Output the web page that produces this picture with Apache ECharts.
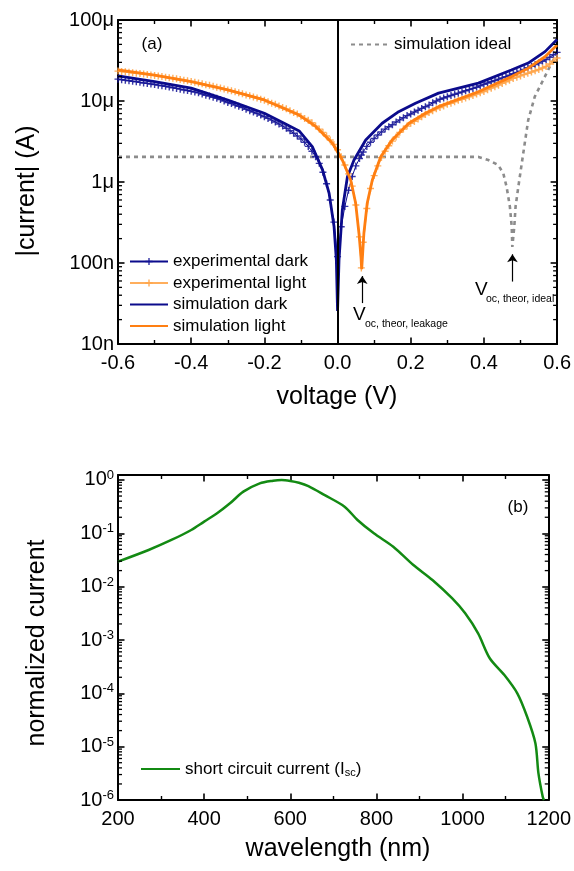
<!DOCTYPE html>
<html><head><meta charset="utf-8">
<script src="https://cdn.jsdelivr.net/npm/echarts@6/dist/echarts.min.js"></script>
<style>html,body{margin:0;padding:0;background:#fff}#c{width:574px;height:871px}</style>
</head><body><div id="c"></div>
<script>
const FONT = "'Liberation Sans', Arial, Helvetica, sans-serif";

// ---------- panel (a) data ----------
const expVoltage = [-0.60,-0.59,-0.58,-0.57,-0.56,-0.55,-0.54,-0.53,-0.52,-0.51,-0.50,-0.49,-0.48,-0.47,-0.46,-0.45,-0.44,-0.43,-0.42,-0.41,-0.40,-0.39,-0.38,-0.37,-0.36,-0.35,-0.34,-0.33,-0.32,-0.31,-0.30,-0.29,-0.28,-0.27,-0.26,-0.25,-0.24,-0.23,-0.22,-0.21,-0.20,-0.19,-0.18,-0.17,-0.16,-0.15,-0.14,-0.13,-0.12,-0.11,-0.10,-0.09,-0.08,-0.07,-0.06,-0.05,-0.04,-0.03,-0.02,-0.01,0.00,0.01,0.02,0.03,0.04,0.05,0.06,0.065,0.07,0.08,0.09,0.10,0.11,0.12,0.13,0.14,0.15,0.16,0.17,0.18,0.19,0.20,0.21,0.22,0.23,0.24,0.25,0.26,0.27,0.28,0.29,0.30,0.31,0.32,0.33,0.34,0.35,0.36,0.37,0.38,0.39,0.40,0.41,0.42,0.43,0.44,0.45,0.46,0.47,0.48,0.49,0.50,0.51,0.52,0.53,0.54,0.55,0.56,0.57,0.58,0.59,0.60];
const expDark = [1.86e-5,1.83e-5,1.81e-5,1.78e-5,1.75e-5,1.73e-5,1.70e-5,1.67e-5,1.65e-5,1.62e-5,1.60e-5,1.57e-5,1.54e-5,1.52e-5,1.49e-5,1.46e-5,1.43e-5,1.40e-5,1.37e-5,1.35e-5,1.32e-5,1.29e-5,1.26e-5,1.22e-5,1.18e-5,1.15e-5,1.11e-5,1.08e-5,1.04e-5,1.00e-5,9.6e-6,9.3e-6,8.9e-6,8.6e-6,8.3e-6,7.9e-6,7.6e-6,7.3e-6,7.0e-6,6.7e-6,6.4e-6,6.1e-6,5.8e-6,5.5e-6,5.2e-6,4.9e-6,4.6e-6,4.3e-6,4.0e-6,3.7e-6,3.4e-6,3.1e-6,2.75e-6,2.4e-6,2.05e-6,1.7e-6,1.32e-6,9.5e-7,6.0e-7,3.2e-7,1.2e-7,2.8e-7,5.0e-7,7.9e-7,1.17e-6,1.58e-6,1.95e-6,2.15e-6,2.35e-6,2.75e-6,3.1e-6,3.45e-6,3.8e-6,4.15e-6,4.5e-6,4.8e-6,5.1e-6,5.5e-6,5.85e-6,6.2e-6,6.6e-6,6.9e-6,7.3e-6,7.7e-6,8.1e-6,8.5e-6,8.9e-6,9.5e-6,1.0e-5,1.05e-5,1.09e-5,1.13e-5,1.17e-5,1.21e-5,1.25e-5,1.29e-5,1.34e-5,1.38e-5,1.43e-5,1.48e-5,1.54e-5,1.61e-5,1.67e-5,1.73e-5,1.79e-5,1.86e-5,1.93e-5,2.0e-5,2.08e-5,2.17e-5,2.25e-5,2.33e-5,2.45e-5,2.57e-5,2.69e-5,2.82e-5,2.95e-5,3.09e-5,3.24e-5,3.47e-5,3.72e-5,3.98e-5];
const expLight = [2.34e-5,2.31e-5,2.29e-5,2.26e-5,2.23e-5,2.2e-5,2.18e-5,2.15e-5,2.12e-5,2.1e-5,2.07e-5,2.04e-5,2.01e-5,1.97e-5,1.94e-5,1.91e-5,1.88e-5,1.84e-5,1.81e-5,1.78e-5,1.74e-5,1.7e-5,1.67e-5,1.63e-5,1.59e-5,1.56e-5,1.52e-5,1.48e-5,1.45e-5,1.41e-5,1.37e-5,1.34e-5,1.3e-5,1.26e-5,1.23e-5,1.19e-5,1.16e-5,1.12e-5,1.09e-5,1.05e-5,1.02e-5,9.8e-6,9.4e-6,9.1e-6,8.7e-6,8.3e-6,8.0e-6,7.6e-6,7.2e-6,6.9e-6,6.5e-6,6.1e-6,5.8e-6,5.4e-6,4.9e-6,4.5e-6,4.1e-6,3.7e-6,3.3e-6,2.9e-6,2.5e-6,2.05e-6,1.62e-6,1.26e-6,8.9e-7,5.2e-7,2.1e-7,8.7e-8,1.8e-7,4.7e-7,8.3e-7,1.2e-6,1.58e-6,2.0e-6,2.4e-6,2.8e-6,3.2e-6,3.6e-6,4.1e-6,4.5e-6,4.9e-6,5.3e-6,5.6e-6,6.0e-6,6.4e-6,6.8e-6,7.2e-6,7.6e-6,8.0e-6,8.3e-6,8.7e-6,9.1e-6,9.4e-6,9.8e-6,1.02e-5,1.05e-5,1.09e-5,1.13e-5,1.17e-5,1.22e-5,1.26e-5,1.31e-5,1.38e-5,1.44e-5,1.5e-5,1.57e-5,1.65e-5,1.73e-5,1.81e-5,1.9e-5,1.97e-5,2.04e-5,2.12e-5,2.2e-5,2.28e-5,2.36e-5,2.45e-5,2.55e-5,2.67e-5,2.86e-5,3.1e-5,3.4e-5];

const simDarkV = [-0.6,-0.5,-0.4,-0.3,-0.2,-0.146,-0.105,-0.069,-0.041,-0.023,-0.0095,-0.0033,0,0.004,0.013,0.027,0.045,0.077,0.122,0.167,0.213,0.276,0.385,0.475,0.521,0.567,0.6];
const simDark = [2.04e-5,1.73e-5,1.44e-5,1.03e-5,7.05e-6,5.31e-6,4.27e-6,2.73e-6,1.41e-6,7.24e-7,2.8e-7,1.09e-7,2.55e-8,1.09e-7,4.51e-7,1.16e-6,1.87e-6,3.3e-6,5.31e-6,7.38e-6,9.38e-6,1.25e-5,1.66e-5,2.41e-5,2.94e-5,4.07e-5,5.74e-5];

const simLightV = [-0.6,-0.5,-0.4,-0.3,-0.2,-0.105,-0.059,-0.014,0.013,0.036,0.0495,0.0585,0.064,0.066,0.072,0.081,0.095,0.118,0.149,0.195,0.24,0.276,0.385,0.476,0.521,0.567,0.6];
const simLight = [2.42e-5,2.09e-5,1.73e-5,1.37e-5,1.03e-5,6.71e-6,4.82e-6,3.01e-6,1.87e-6,1.06e-6,5.46e-7,2.33e-7,1.2e-7,8.4e-8,2.33e-7,5.46e-7,1.06e-6,2.05e-6,3.3e-6,5.31e-6,7.05e-6,8.51e-6,1.30e-5,2.0e-5,2.54e-5,3.52e-5,4.91e-5];

const simIdealV = [-0.6,-0.3,0,0.3,0.385,0.412,0.439,0.453,0.462,0.471,0.476,0.4776,0.483,0.4865,0.494,0.5075,0.521,0.539,0.5665,0.5845,0.6];
const simIdeal = [2.04e-6,2.04e-6,2.04e-6,2.04e-6,2.04e-6,1.87e-6,1.62e-6,1.28e-6,8.7e-7,4.96e-7,2.8e-7,1.58e-7,2.8e-7,4.96e-7,8.7e-7,2.26e-6,5.8e-6,1.13e-5,2.0e-5,2.92e-5,3.8e-5];

const voltageTicks = [-0.6,-0.4,-0.2,0.0,0.2,0.4,0.6];
const currentTickValues = [1e-8,1e-7,1e-6,1e-5,1e-4];
const currentTickLabels = ['10n','100n','1μ','10μ','100μ'];

// arrows: [voltage, tail current, head current]
const arrowLeakage = [0.0675, 3.2e-8, 6.9e-8];
const arrowIdeal = [0.478, 5.9e-8, 1.28e-7];

// ---------- panel (b) data ----------
const wavelength = [200,271,324,370,400,430,460,491,529,560,580,600,620,642,680,726,756,794,839,885,930,976,1006,1036,1063,1097,1127,1150,1169,1176,1186,1189];
const normCurrent = [0.0295,0.0487,0.075,0.1155,0.166,0.237,0.365,0.604,0.866,0.97,1.0,0.96,0.89,0.77,0.52,0.316,0.178,0.1,0.056,0.0257,0.0133,0.006,0.00316,0.00133,4.55e-4,2.2e-4,1e-4,3.6e-5,1.16e-5,3.2e-6,1.15e-6,1e-6];
const wavelengthTicks = [200,400,600,800,1000,1200];

// ---------- build ----------
const pair = (xs, ys) => xs.map((x, i) => [x, ys[i]]);
const PLUS = 'path://M4,0H6V4H10V6H6V10H4V6H0V4H4Z';
const NAVY = '#0b0b8c';
const ORANGE = '#ff7f12';
const LORANGE = '#ffa54a';
const GREEN = '#138a13';

function minorValues(d0, d1) {
  const out = [];
  for (let d = d0; d <= d1; d++) for (let k = 2; k <= 9; k++) out.push(k * Math.pow(10, d));
  return out;
}
function minorTickSeries(xi, yi, xRef, values) {
  return {
    type: 'custom', coordinateSystem: 'cartesian2d', xAxisIndex: xi, yAxisIndex: yi, silent: true, clip: false, z: 10,
    encode: { x: 0, y: 1 },
    data: values.map(v => [xRef, v]),
    renderItem: function (params, api) {
      const cs = params.coordSys;
      const y = api.coord([api.value(0), api.value(1)])[1];
      return { type: 'group', children: [
        { type: 'line', shape: { x1: cs.x, y1: y, x2: cs.x + 4, y2: y }, style: { stroke: '#000', lineWidth: 1.3 } },
        { type: 'line', shape: { x1: cs.x + cs.width, y1: y, x2: cs.x + cs.width - 4, y2: y }, style: { stroke: '#000', lineWidth: 1.3 } }
      ]};
    }
  };
}

const axisLine = { show: true, onZero: false, lineStyle: { color: '#000', width: 2 } };
const tick = { show: true, inside: true, length: 6.5, lineStyle: { color: '#000', width: 1.6 } };
const minorTick = { show: true, splitNumber: 2, length: 4, lineStyle: { color: '#000', width: 1.4 } };
const lbl = { fontSize: 20, color: '#000', fontFamily: FONT };

function xAx(grid, min, max, interval, pos, showLabel, fmt) {
  return { type: 'value', gridIndex: grid, min, max, interval, position: pos,
    axisLine, axisTick: tick, minorTick, splitLine: { show: false }, minorSplitLine: { show: false },
    axisLabel: Object.assign({ show: showLabel, margin: 9, formatter: fmt }, lbl) };
}
function yAx(grid, min, max, split, pos, showLabel, fmt, rich) {
  const a = { type: 'log', logBase: 10, gridIndex: grid, min, max, splitNumber: split, position: pos,
    axisLine, axisTick: tick, splitLine: { show: false },
    axisLabel: Object.assign({ show: showLabel, margin: 4, formatter: fmt }, lbl) };
  if (rich) a.axisLabel.rich = rich;
  return a;
}

const fmtV = v => Math.abs(v) < 1e-9 ? '0.0' : v.toFixed(1);
const fmtI = v => {
  const e = Math.round(Math.log10(v));
  const idx = currentTickValues.findIndex(t => Math.abs(Math.log10(t) - e) < 1e-6);
  return (Math.abs(Math.log10(v) - e) < 0.01 && idx >= 0) ? currentTickLabels[idx] : '';
};
const fmtN = v => {
  const l = Math.log10(v); const e = Math.round(l);
  if (Math.abs(l - e) > 0.01) return '';
  return '{b|10}{e|' + e + '}';
};

const hideSym = { opacity: 0 };
const chart = echarts.init(document.getElementById('c'), null, { renderer: 'canvas' });
const option = {
  animation: false,
  backgroundColor: '#fff',
  textStyle: { fontFamily: FONT },
  grid: [
    { left: 118, top: 20, width: 441, height: 324 },
    { left: 118, top: 475, width: 441, height: 325 }
  ],
  xAxis: [
    xAx(0, -0.6, 0.6, 0.2, 'bottom', true, fmtV),
    xAx(0, -0.6, 0.6, 0.2, 'top', false, fmtV),
    xAx(1, 200, 1200, 200, 'bottom', true, v => String(v)),
    xAx(1, 200, 1200, 200, 'top', false, v => String(v))
  ],
  yAxis: [
    yAx(0, 1e-8, 1e-4, 4, 'left', true, fmtI),
    yAx(0, 1e-8, 1e-4, 4, 'right', false, fmtI),
    yAx(1, 1e-6, 1.24, 6, 'left', true, fmtN, {
      b: { fontSize: 20, lineHeight: 22, verticalAlign: 'middle', fontFamily: FONT, color: '#000' },
      e: { fontSize: 13, lineHeight: 10, verticalAlign: 'top', fontFamily: FONT, color: '#000' }
    }),
    yAx(1, 1e-6, 1.24, 6, 'right', false, fmtN)
  ],
  legend: [
    { data: ['experimental dark', 'experimental light',
             { name: 'simulation dark', itemStyle: hideSym }, { name: 'simulation light', itemStyle: hideSym }],
      orient: 'vertical', left: 124, top: 248, itemWidth: 38, itemHeight: 9, itemGap: 4.5,
      selectedMode: false, textStyle: { fontSize: 17, lineHeight: 17, color: '#000', fontFamily: FONT } },
    { data: [{ name: 'simulation ideal', itemStyle: hideSym }], left: 345, top: 31, itemWidth: 38, itemHeight: 9, selectedMode: false,
      textStyle: { fontSize: 17, color: '#000', fontFamily: FONT } },
    { data: [{ name: 'short circuit current (Isc)', itemStyle: hideSym }], left: 135, top: 755, itemWidth: 39, itemHeight: 9, selectedMode: false,
      formatter: () => 'short circuit current (I{s|sc})',
      textStyle: { fontSize: 17, lineHeight: 18, color: '#000', fontFamily: FONT,
        rich: { s: { fontSize: 11, lineHeight: 5, verticalAlign: 'bottom', color: '#000', fontFamily: FONT } } } }
  ],
  series: [
    { name: 'simulation ideal', type: 'line', xAxisIndex: 0, yAxisIndex: 0, data: pair(simIdealV, simIdeal),
      symbol: 'none', lineStyle: { color: '#8c8c8c', width: 2.6, type: [4, 4] }, itemStyle: { color: '#8c8c8c' }, z: 2,
      markLine: { silent: true, symbol: 'none', label: { show: false }, animation: false,
        lineStyle: { color: '#000', width: 2, type: 'solid' }, data: [{ xAxis: 0 }] } },
    { name: 'experimental dark', type: 'line', xAxisIndex: 0, yAxisIndex: 0, data: pair(expVoltage, expDark),
      symbol: PLUS, symbolSize: 7, showAllSymbol: true,
      lineStyle: { color: NAVY, width: 1 }, itemStyle: { color: 'rgba(20,20,150,0.85)' }, z: 3 },
    { name: 'experimental light', type: 'line', xAxisIndex: 0, yAxisIndex: 0, data: pair(expVoltage, expLight),
      symbol: PLUS, symbolSize: 7, showAllSymbol: true,
      lineStyle: { color: LORANGE, width: 1.5, opacity: 0.9 }, itemStyle: { color: LORANGE, opacity: 0.9 }, z: 3 },
    { name: 'simulation dark', type: 'line', xAxisIndex: 0, yAxisIndex: 0, data: pair(simDarkV, simDark),
      symbol: 'none', lineStyle: { color: NAVY, width: 2.8 }, itemStyle: { color: NAVY }, z: 4 },
    { name: 'simulation light', type: 'line', xAxisIndex: 0, yAxisIndex: 0, data: pair(simLightV, simLight),
      symbol: 'none', lineStyle: { color: ORANGE, width: 2.8 }, itemStyle: { color: ORANGE }, z: 4,
      markLine: { silent: true, symbol: ['none', 'arrow'], symbolSize: 8, label: { show: false }, animation: false,
        lineStyle: { color: '#000', width: 1.2, type: 'solid' },
        data: [
          [{ coord: [arrowLeakage[0], arrowLeakage[1]] }, { coord: [arrowLeakage[0], arrowLeakage[2]] }],
          [{ coord: [arrowIdeal[0], arrowIdeal[1]] }, { coord: [arrowIdeal[0], arrowIdeal[2]] }]
        ] } },
    { name: 'short circuit current (Isc)', type: 'line', xAxisIndex: 2, yAxisIndex: 2, data: pair(wavelength, normCurrent),
      symbol: 'none', smooth: 0.3, lineStyle: { color: GREEN, width: 2.5 }, itemStyle: { color: GREEN } },
    minorTickSeries(0, 0, -0.6, minorValues(-8, -5)),
    minorTickSeries(2, 2, 200, minorValues(-6, -1))
  ],
  graphic: [
    { type: 'text', x: 152, y: 44, style: { text: '(a)', fontSize: 17, fontFamily: FONT, fill: '#000', align: 'center', verticalAlign: 'middle' } },
    { type: 'text', x: 518, y: 507, style: { text: '(b)', fontSize: 17, fontFamily: FONT, fill: '#000', align: 'center', verticalAlign: 'middle' } },
    { type: 'text', x: 353, y: 315, style: { text: 'V', fontSize: 19, fontFamily: FONT, fill: '#000', align: 'left', verticalAlign: 'middle' } },
    { type: 'text', x: 365, y: 324, style: { text: 'oc, theor, leakage', fontSize: 10.5, fontFamily: FONT, fill: '#000', align: 'left', verticalAlign: 'middle' } },
    { type: 'text', x: 475, y: 290, style: { text: 'V', fontSize: 19, fontFamily: FONT, fill: '#000', align: 'left', verticalAlign: 'middle' } },
    { type: 'text', x: 486, y: 299, style: { text: 'oc, theor, ideal', fontSize: 10.5, fontFamily: FONT, fill: '#000', align: 'left', verticalAlign: 'middle' } },
    { type: 'text', x: 27, y: 191, rotation: Math.PI / 2, style: { text: '|current| (A)', fontSize: 25, fontFamily: FONT, fill: '#000', align: 'center', verticalAlign: 'middle' } },
    { type: 'text', x: 37, y: 643, rotation: Math.PI / 2, style: { text: 'normalized current', fontSize: 25, fontFamily: FONT, fill: '#000', align: 'center', verticalAlign: 'middle' } },
    { type: 'text', x: 337, y: 397, style: { text: 'voltage (V)', fontSize: 25, fontFamily: FONT, fill: '#000', align: 'center', verticalAlign: 'middle' } },
    { type: 'text', x: 338, y: 849, style: { text: 'wavelength (nm)', fontSize: 25, fontFamily: FONT, fill: '#000', align: 'center', verticalAlign: 'middle' } }
  ]
};
chart.setOption(option);
</script>
</body></html>
